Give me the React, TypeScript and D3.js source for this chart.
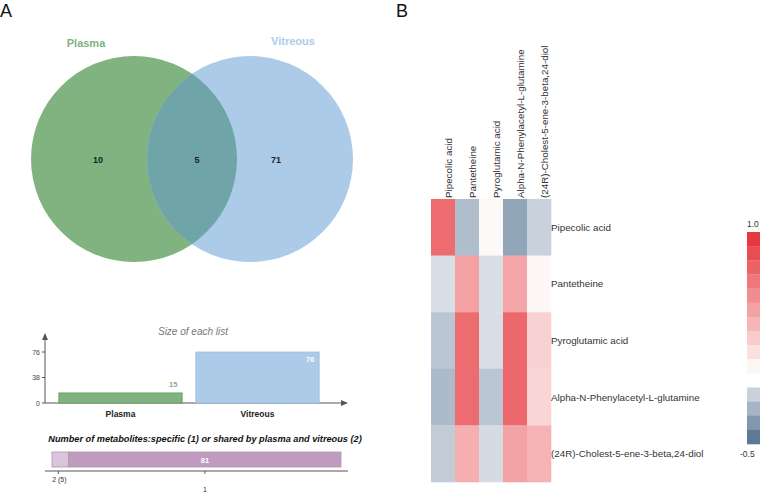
import React from "react";
import * as d3 from "d3";

const setNames = ["Plasma", "Vitreous"];
const setSizes = [15, 76];
const regionCounts = [10, 5, 71]; // plasma only, shared, vitreous only
const sizeTicks = [0, 38, 76];
const specificLabels = ["2 (5)", "1"];
const specificCounts = [5, 81];

const metabolites = [
  "Pipecolic acid",
  "Pantetheine",
  "Pyroglutamic acid",
  "Alpha-N-Phenylacetyl-L-glutamine",
  "(24R)-Cholest-5-ene-3-beta,24-diol",
];
const corrRow1 = [0.7, -0.22, 0.03, -0.3, -0.15];
const corrRow2 = [-0.11, 0.45, -0.11, 0.43, 0.04];
const corrRow3 = [-0.19, 0.7, -0.11, 0.72, 0.22];
const corrRow4 = [-0.23, 0.7, -0.19, 0.72, 0.2];
const corrRow5 = [-0.17, 0.38, -0.12, 0.44, 0.36];
const corrRows = [corrRow1, corrRow2, corrRow3, corrRow4, corrRow5];
const colorbarSteps = [0.95, 0.85, 0.75, 0.65, 0.55, 0.45, 0.35, 0.25, 0.15, 0.05, 0, -0.15, -0.25, -0.35, -0.45];
const colorbarLabels = ["1.0", "-0.5"];

const GREEN = "#80b37f";
const BLUE = "#abcbe9";
const OVERLAP = "#6fa5a8";
const FONT = "'Liberation Sans', Arial, Helvetica, sans-serif";

const posInterp = d3.interpolateRgb("#ffffff", "#e52d33");
const negInterp = d3.interpolateRgb("#ffffff", "#4a6a8a");
const corrColor = (v: number) => (v >= 0 ? posInterp(Math.min(1, v)) : negInterp(Math.min(1, -v / 0.5)));

function Venn() {
  const r = 103;
  const cy = 159;
  const cx = d3.scaleLinear().domain([0, 1]).range([134, 250]);
  const labelX = d3.scaleLinear().domain([0, 1]).range([86, 293]);
  const countX = [98, 197, 276];
  return (
    <g>
      <defs>
        <clipPath id="plasmaClip">
          <circle cx={cx(0)} cy={cy} r={r} />
        </clipPath>
      </defs>
      <circle cx={cx(0)} cy={cy} r={r} fill={GREEN} />
      <circle cx={cx(1)} cy={cy} r={r} fill={BLUE} />
      <circle cx={cx(1)} cy={cy} r={r} fill={OVERLAP} clipPath="url(#plasmaClip)" />
      {setNames.map((n, i) => (
        <text key={n} x={labelX(i)} y={i === 0 ? 47 : 45} textAnchor="middle" fontFamily={FONT} fontWeight="bold" fontSize={11} fill={i === 0 ? GREEN : BLUE}>
          {n}
        </text>
      ))}
      {regionCounts.map((c, i) => (
        <text key={i} x={countX[i]} y={162.5} textAnchor="middle" fontFamily={FONT} fontWeight="bold" fontSize={9} fill="#222">
          {c}
        </text>
      ))}
    </g>
  );
}

function SizeBars() {
  const y = d3.scaleLinear().domain([0, 76]).range([403, 352]);
  const x = d3.scaleBand().domain(setNames).range([52, 326]).paddingInner(0.1).paddingOuter(0.05);
  const axisColor = "#555";
  return (
    <g fontFamily={FONT}>
      <text x={193} y={335} textAnchor="middle" fontStyle="italic" fontSize={10} fill="#777">Size of each list</text>
      <line x1={45} y1={403} x2={45} y2={338} stroke={axisColor} strokeWidth={1} />
      <path d="M45,333 L42,340 L48,340 Z" fill={axisColor} />
      <line x1={45} y1={403} x2={342} y2={403} stroke={axisColor} strokeWidth={1} />
      <path d="M348,403 L341,400 L341,406 Z" fill={axisColor} />
      {sizeTicks.map((t) => (
        <g key={t}>
          <line x1={42} x2={45} y1={y(t)} y2={y(t)} stroke={axisColor} />
          <text x={40} y={y(t) + 2.5} textAnchor="end" fontSize={7} fill="#444">{t}</text>
        </g>
      ))}
      {setNames.map((n, i) => (
        <g key={n}>
          <rect
            x={x(n)!}
            y={y(setSizes[i])}
            width={x.bandwidth()}
            height={y(0) - y(setSizes[i])}
            fill={i === 0 ? GREEN : BLUE}
            stroke={i === 0 ? "#5e9a5d" : "#98bfe3"}
            strokeWidth={0.8}
          />
          <text x={x(n)! + x.bandwidth() / 2} y={417} textAnchor="middle" fontWeight="bold" fontSize={8.5} fill="#222">{n}</text>
          <text
            x={x(n)! + x.bandwidth() - 9}
            y={i === 0 ? y(setSizes[i]) - 6 : y(setSizes[i]) + 10}
            textAnchor="middle"
            fontWeight="bold"
            fontSize={7.5}
            fill={i === 0 ? GREEN : "#ffffff"}
          >
            {setSizes[i]}
          </text>
        </g>
      ))}
    </g>
  );
}

function SpecificBar() {
  const total = d3.sum(specificCounts);
  const x = d3.scaleLinear().domain([0, total]).range([52, 341]);
  const starts = d3.cumsum([0, ...specificCounts]);
  const fills = ["#dcc5dc", "#c19bc0"];
  return (
    <g fontFamily={FONT}>
      <text x={205} y={442} textAnchor="middle" fontWeight="bold" fontStyle="italic" fontSize={9.2} fill="#111">
        Number of metabolites:specific (1) or shared by plasma and vitreous (2)
      </text>
      {specificCounts.map((c, i) => {
        const x0 = x(starts[i]);
        const x1 = x(starts[i] + c);
        const mid = (x0 + x1) / 2;
        return (
          <g key={i}>
            <rect x={x0} y={452} width={x1 - x0} height={15} fill={fills[i]} stroke="#a89aa8" strokeWidth={0.8} />
            {i === 1 && (
              <text x={mid} y={462.5} textAnchor="middle" fontWeight="bold" fontSize={7.5} fill="#fff">{c}</text>
            )}
            <line x1={i === 0 ? mid - 2 : mid} x2={i === 0 ? mid - 2 : mid} y1={471} y2={474} stroke="#666" />
            <text x={i === 0 ? mid - 1 : mid} y={i === 0 ? 482 : 492} textAnchor="middle" fontSize={7} fill="#333">
              {specificLabels[i]}
            </text>
          </g>
        );
      })}
      <line x1={45} x2={348} y1={471} y2={471} stroke="#555" strokeWidth={1} />
    </g>
  );
}

function Heatmap() {
  const x = d3.scaleBand().domain(metabolites).range([431, 551]);
  const y = d3.scaleBand().domain(metabolites).range([199, 482]);
  const cb = d3.scaleBand().domain(colorbarSteps.map(String)).range([232, 444]);
  return (
    <g fontFamily={FONT}>
      {corrRows.map((row, ri) =>
        row.map((v, ci) => (
          <rect
            key={ri + "-" + ci}
            x={x(metabolites[ci])!}
            y={y(metabolites[ri])!}
            width={x.bandwidth() + 0.3}
            height={y.bandwidth() + 0.3}
            fill={corrColor(v)}
          />
        ))
      )}
      {metabolites.map((m) => (
        <text
          key={"c" + m}
          transform={`translate(${x(m)! + x.bandwidth() / 2 + 9},${198}) rotate(-90)`}
          fontSize={9.8}
          fill="#333"
        >
          {m}
        </text>
      ))}
      {metabolites.map((m) => (
        <text key={"r" + m} x={551} y={y(m)! + y.bandwidth() / 2 + 3.5} fontSize={9.8} fill="#333">
          {m}
        </text>
      ))}
      {colorbarSteps.map((v) => (
        <rect key={"cb" + v} x={747} y={cb(String(v))!} width={20} height={cb.bandwidth() + 0.3} fill={corrColor(v)} />
      ))}
      <text x={747} y={227} fontSize={8.5} fill="#333">{colorbarLabels[0]}</text>
      <text x={740} y={457} fontSize={8.5} fill="#333">{colorbarLabels[1]}</text>
    </g>
  );
}

export default function App() {
  return (
    <svg width={760} height={492} style={{ position: "absolute", left: 0, top: 0, background: "#fff" }}>
      <rect width={760} height={492} fill="#fff" />
      <text x={0} y={17} fontFamily={FONT} fontSize={18} fill="#111">A</text>
      <text x={396} y={17} fontFamily={FONT} fontSize={18} fill="#111">B</text>
      <Venn />
      <SizeBars />
      <SpecificBar />
      <Heatmap />
    </svg>
  );
}
